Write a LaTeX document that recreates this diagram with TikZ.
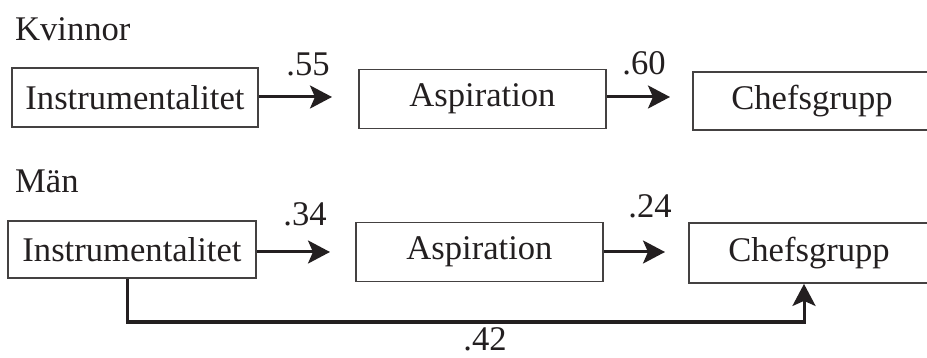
\documentclass[tikz,border=0pt]{standalone}
\usepackage{fontspec}
\setmainfont{Liberation Serif}
\usetikzlibrary{arrows.meta}
\definecolor{ink}{HTML}{231F20}
\begin{document}
\begin{tikzpicture}[x=1pt,y=-1pt,
  every node/.style={font=\fontsize{34.6}{40}\selectfont, text=ink},
  box/.style={draw=ink!85, line width=1.8pt, inner sep=0pt, anchor=center},
  arr/.style={draw=ink, line width=3pt, line join=miter,
    -{Stealth[length=22pt,width=23pt,inset=5pt]}},
  wt/.style={anchor=base, inner sep=0pt},
  grp/.style={anchor=base west, inner sep=0pt}]
\useasboundingbox (0,0) rectangle (927,358);
\clip (0,0) rectangle (927,358);

% Kvinnor
\node[grp] (kv) at (15,41) {Kvinnor};
\node[box, minimum width=246pt, minimum height=59pt] (A1) at (135,97.5) {Instrumentalitet};
\node[box, minimum width=247pt, minimum height=59pt] (B1) at (482.5,99) {Aspiration};
\node[box, minimum width=238pt, minimum height=58pt] (C1) at (812,101) {Chefsgrupp};
\coordinate (t1) at (332,97);
\coordinate (t2) at (670,97);
\draw[arr] (A1.east |- t1) -- (t1);
\draw[arr] (B1.east |- t2) -- (t2);
\node[wt] (w1) at (308,76) {.55};
\node[wt] (w2) at (644,75) {.60};

% Män
\node[grp] (mn) at (15,193) {Män};
\node[box, minimum width=248pt, minimum height=57pt] (A2) at (132,249.5) {Instrumentalitet};
\node[box, minimum width=247pt, minimum height=59pt] (B2) at (479.5,252) {Aspiration};
\node[box, minimum width=240pt, minimum height=60pt] (C2) at (809,253) {Chefsgrupp};
\coordinate (t3) at (330,252);
\coordinate (t4) at (665,252);
\draw[arr] (A2.east |- t3) -- (t3);
\draw[arr] (B2.east |- t4) -- (t4);
\node[wt] (w3) at (305,226) {.34};
\node[wt] (w4) at (650,218) {.24};

% direct path
\coordinate (kx) at (127,322);
\coordinate (ky) at (804,322);
\draw[arr] (A2.south -| kx) |- (ky) -- (C2.south -| ky);
\node[wt] (w5) at (485,350) {.42};
\end{tikzpicture}
\end{document}
